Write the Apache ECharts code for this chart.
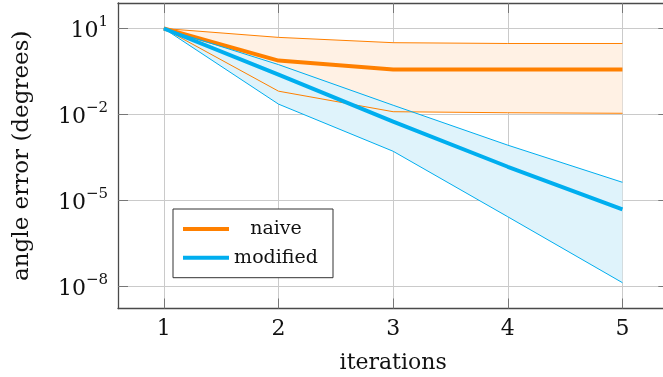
<!DOCTYPE html>
<html>
<head>
<meta charset="utf-8">
<script src="https://cdn.jsdelivr.net/npm/echarts@6/dist/echarts.min.js"></script>
<style>html,body{margin:0;padding:0;background:#fff}#c{width:663px;height:377px}</style>
</head>
<body>
<div id="c"></div>
<script>
// ---- data (angle error in degrees) ----
const iterations   = [1, 2, 3, 4, 5];
const naiveMean    = [10, 0.76, 0.37, 0.37, 0.37];
const naiveUpper   = [10, 4.9, 3.2, 3.0, 3.0];
const naiveLower   = [10, 0.065, 0.0125, 0.0115, 0.011];
const modMean      = [10, 0.245, 0.0056, 1.5e-4, 4.9e-6];
const modUpper     = [10, 0.55, 0.021, 8.5e-4, 4.3e-5];
const modLower     = [10, 0.023, 5.2e-4, 2.7e-6, 1.35e-8];
const xTickValues  = [1, 2, 3, 4, 5];
const yTickExps    = [-8, -5, -2, 1];
const seriesNames  = ['naive', 'modified'];

const ORANGE = '#FF8000', BLUE = '#00AEEF';
const FONT = 'DejaVu Serif';
const L = v => Math.log10(v);
const pts = arr => iterations.map((x, i) => [x, L(arr[i])]);
const supText = n => '{b|10}{s|' + (n < 0 ? '\u2212' + (-n) : String(n)) + '}';

function bandSeries(upper, lower, fill) {
  return {
    type: 'custom', silent: true, data: [[iterations[0], L(upper[0])]],
    renderItem: (params, api) => {
      const top = iterations.map((x, i) => api.coord([x, L(upper[i])]));
      const bot = iterations.map((x, i) => api.coord([x, L(lower[i])])).reverse();
      return {type: 'polygon', shape: {points: top.concat(bot)}, style: {fill: fill}};
    }
  };
}
function thinLine(arr, color) {
  return {type: 'line', data: pts(arr), symbol: 'none', silent: true,
          lineStyle: {color: color, width: 1}, itemStyle: {color: color}};
}

const chart = echarts.init(document.getElementById('c'), null, {renderer: 'canvas'});
const axisLineStyle = {color: '#4a4a4a', width: 1.3};
const tickStyle = {color: '#777', width: 1};
const gridStyle = {color: '#cacaca', width: 1};

chart.setOption({
  animation: false,
  backgroundColor: '#fff',
  grid: {left: 118, top: 3, width: 550.3, height: 305.5, containLabel: false, outerBoundsMode: 'none'},
  legend: {
    data: seriesNames,
    orient: 'vertical',
    left: 173, top: 209,
    padding: [8, 15, 8, 10],
    itemGap: 4.7,
    itemWidth: 46, itemHeight: 4,
    icon: 'rect',
    backgroundColor: '#fff',
    borderColor: '#333', borderWidth: 1,
    formatter: name => '{t|' + name + '}',
    textStyle: {
      fontFamily: FONT, fontSize: 19, color: '#111', lineHeight: 24,
      rich: {t: {width: 84, align: 'center', fontFamily: FONT, fontSize: 19, lineHeight: 24}}
    }
  },
  xAxis: [{
    type: 'value', min: 0.6, max: 5.4, position: 'bottom',
    name: 'iterations', nameLocation: 'middle', nameGap: 44,
    nameTextStyle: {fontFamily: FONT, fontSize: 22, color: '#111'},
    axisLine: {show: true, onZero: false, lineStyle: axisLineStyle},
    axisTick: {show: true, inside: true, length: 10, lineStyle: tickStyle, customValues: xTickValues},
    axisLabel: {show: true, margin: 10, fontFamily: FONT, fontSize: 22, color: '#111', customValues: xTickValues},
    splitLine: {show: true, lineStyle: gridStyle}
  }, {
    type: 'value', min: 0.6, max: 5.4, position: 'top',
    axisLine: {show: true, onZero: false, lineStyle: axisLineStyle},
    axisTick: {show: true, inside: true, length: 10, lineStyle: tickStyle, customValues: xTickValues},
    axisLabel: {show: false, customValues: xTickValues},
    splitLine: {show: false}
  }],
  yAxis: [{
    type: 'value', min: -8.77, max: 1.89, position: 'left',
    name: 'angle error (degrees)', nameLocation: 'middle', nameGap: 84,
    nameTextStyle: {fontFamily: FONT, fontSize: 23, color: '#111'},
    axisLine: {show: true, onZero: false, lineStyle: axisLineStyle},
    axisTick: {show: true, inside: true, length: 10, lineStyle: tickStyle, customValues: yTickExps},
    axisLabel: {
      show: true, margin: 10, customValues: yTickExps,
      formatter: v => supText(Math.round(v)),
      rich: {
        b: {fontFamily: FONT, fontSize: 22, color: '#111', lineHeight: 28, verticalAlign: 'bottom'},
        s: {fontFamily: FONT, fontSize: 15, color: '#111', lineHeight: 15, verticalAlign: 'top'}
      }
    },
    splitLine: {show: true, lineStyle: gridStyle}
  }, {
    type: 'value', min: -8.77, max: 1.89, position: 'right',
    axisLine: {show: false, onZero: false, lineStyle: axisLineStyle},
    axisTick: {show: true, inside: true, length: 10, lineStyle: tickStyle, customValues: yTickExps},
    axisLabel: {show: false, customValues: yTickExps},
    splitLine: {show: false}
  }],
  series: [
    bandSeries(naiveUpper, naiveLower, '#FFF1E4'),
    bandSeries(modUpper, modLower, '#DFF3FB'),
    thinLine(naiveLower, ORANGE),
    thinLine(naiveUpper, ORANGE),
    {name: 'naive', type: 'line', data: pts(naiveMean), symbol: 'none',
     lineStyle: {color: ORANGE, width: 4}, itemStyle: {color: ORANGE}},
    thinLine(modLower, BLUE),
    thinLine(modUpper, BLUE),
    {name: 'modified', type: 'line', data: pts(modMean), symbol: 'none',
     lineStyle: {color: BLUE, width: 4}, itemStyle: {color: BLUE}}
  ]
});
</script>
</body>
</html>
